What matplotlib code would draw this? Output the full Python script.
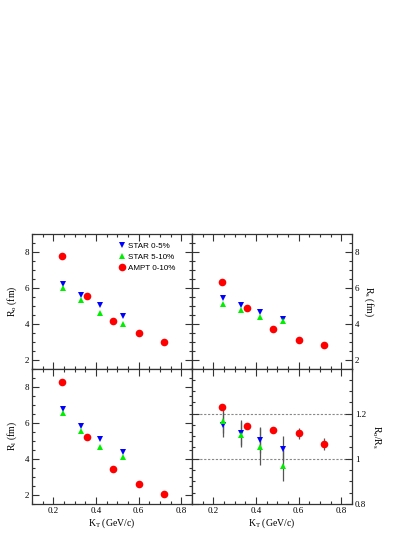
import matplotlib
matplotlib.use("Agg")
import matplotlib.pyplot as plt
from matplotlib.ticker import MultipleLocator, FuncFormatter

# ---- data ----
kt_star = [0.245, 0.33, 0.42, 0.525]
kt_ampt = [0.24, 0.36, 0.48, 0.60, 0.72]

ro_star05 = [6.25, 5.59, 5.03, 4.45]
ro_star510 = [6.0, 5.33, 4.6, 4.02]
ro_ampt = [7.78, 5.55, 4.17, 3.5, 3.02]

rs_star05 = [5.47, 5.03, 4.65, 4.26]
rs_star510 = [5.1, 4.78, 4.37, 4.15]
rs_ampt = [6.36, 4.87, 3.72, 3.12, 2.86]

rl_star05 = [6.76, 5.83, 5.11, 4.37]
rl_star510 = [6.57, 5.56, 4.68, 4.11]
rl_ampt = [8.3, 5.22, 3.43, 2.61, 2.07]

ratio_star05 = [1.15, 1.116, 1.083, 1.044]
ratio_star05_err = [0.055, 0.055, 0.057, 0.056]
ratio_star510 = [1.165, 1.106, 1.054, 0.97]
ratio_star510_err = [0.05, 0.055, 0.08, 0.07]
ratio_ampt = [1.23, 1.147, 1.128, 1.112, 1.066]
ratio_ampt_err = [0.01, 0.01, 0.01, 0.024, 0.025]

labels = ["STAR 0-5%", "STAR 5-10%", "AMPT 0-10%"]

SERIF = "Liberation Serif"
SANS = "Liberation Sans"

plt.rcParams["mathtext.fontset"] = "custom"
plt.rcParams["mathtext.rm"] = SERIF
plt.rcParams["mathtext.it"] = SERIF + ":italic"

W, H = 415, 537
fig = plt.figure(figsize=(W / 100, H / 100), dpi=100)

def ax_at(x0, y0, x1, y1):
    return fig.add_axes([x0 / W, 1 - y1 / H, (x1 - x0) / W, (y1 - y0) / H])

ax_o = ax_at(32, 234, 192, 369)
ax_s = ax_at(192, 234, 352, 369)
ax_l = ax_at(32, 369, 192, 504)
ax_r = ax_at(192, 369, 352, 504)

fmt = FuncFormatter(lambda v, p: "%g" % round(v, 3))

def style(ax, ylo, yhi, ymaj, ymin, right=False, bottom=False):
    ax.set_xlim(0.1, 0.85)
    ax.set_ylim(ylo, yhi)
    ax.xaxis.set_major_locator(MultipleLocator(0.2))
    ax.xaxis.set_minor_locator(MultipleLocator(0.05))
    ax.yaxis.set_major_locator(MultipleLocator(ymaj))
    ax.yaxis.set_minor_locator(MultipleLocator(ymin))
    ax.xaxis.set_major_formatter(fmt)
    ax.yaxis.set_major_formatter(fmt)
    ax.tick_params(which="both", direction="in", top=True, right=True, left=True, bottom=True,
                   width=0.8, color="#333333")
    ax.tick_params(which="major", length=5)
    ax.tick_params(which="minor", length=2.5)
    ax.tick_params(labelbottom=bottom, labelleft=not right, labelright=right, labelsize=6.5, pad=2)
    for lab in ax.get_xticklabels() + ax.get_yticklabels():
        lab.set_family(SERIF)
    for sp in ax.spines.values():
        sp.set_linewidth(0.9)
        sp.set_color("#333333")

ms_tri = 5
ms_circ = 5.5

def draw(ax, y05, y510, yampt):
    ax.plot(kt_star, y05, linestyle="none", marker="v", color="#0000ff", ms=ms_tri, mew=0, label=labels[0])
    ax.plot(kt_star, y510, linestyle="none", marker="^", color="#00ee00", ms=ms_tri, mew=0, label=labels[1])
    ax.plot(kt_ampt, yampt, linestyle="none", marker="o", color="#ff0000", ms=ms_circ, mew=0, label=labels[2])

draw(ax_o, ro_star05, ro_star510, ro_ampt)
draw(ax_s, rs_star05, rs_star510, rs_ampt)
draw(ax_l, rl_star05, rl_star510, rl_ampt)

# ratio panel
for yv in (1.0, 1.2):
    ax_r.axhline(yv, color="#888888", lw=0.8, ls=(0, (2, 1.5)), zorder=1)
ax_r.errorbar(kt_star, ratio_star05, yerr=ratio_star05_err, fmt="none", ecolor="#555555", elinewidth=0.9, capsize=0, zorder=2)
ax_r.errorbar(kt_star, ratio_star510, yerr=ratio_star510_err, fmt="none", ecolor="#555555", elinewidth=0.9, capsize=0, zorder=2)
ax_r.errorbar(kt_ampt, ratio_ampt, yerr=ratio_ampt_err, fmt="none", ecolor="#555555", elinewidth=0.9, capsize=0, zorder=2)
ax_r.plot(kt_star, ratio_star05, linestyle="none", marker="v", color="#0000ff", ms=ms_tri, mew=0, zorder=3)
ax_r.plot(kt_star, ratio_star510, linestyle="none", marker="^", color="#00ee00", ms=ms_tri, mew=0, zorder=3)
ax_r.plot(kt_ampt, ratio_ampt, linestyle="none", marker="o", color="#ff0000", ms=ms_circ, mew=0, zorder=3)

style(ax_o, 1.5, 9, 2, 0.5)
style(ax_s, 1.5, 9, 2, 0.5, right=True)
style(ax_l, 1.5, 9, 2, 0.5, bottom=True)
style(ax_r, 0.8, 1.397, 0.2, 0.05, right=True, bottom=True)

lab_kw = dict(fontsize=7, family=SERIF)
ax_o.set_ylabel(r"R$_{\rm o}$ (fm)", labelpad=4, **lab_kw)
ax_l.set_ylabel(r"R$_{\rm l}$ (fm)", labelpad=4, **lab_kw)
ax_s.yaxis.set_label_position("right")
ax_s.set_ylabel(r"R$_{\rm s}$ (fm)", rotation=270, labelpad=12, **lab_kw)
ax_r.yaxis.set_label_position("right")
ax_r.set_ylabel(r"R$_{\rm o}$/R$_{\rm s}$", rotation=270, labelpad=12, **lab_kw)
ax_l.set_xlabel(r"K$_{\rm T}$ (GeV/c)", labelpad=1, **lab_kw)
ax_r.set_xlabel(r"K$_{\rm T}$ (GeV/c)", labelpad=1, **lab_kw)

ax_o.legend(loc="upper left", bbox_to_anchor=(0.535, 0.94), frameon=False,
            prop={"family": SANS, "size": 5.8}, handletextpad=0.35, labelspacing=0.45,
            handlelength=1.0, borderaxespad=0, borderpad=0)

fig.savefig("out.png", dpi=100)
